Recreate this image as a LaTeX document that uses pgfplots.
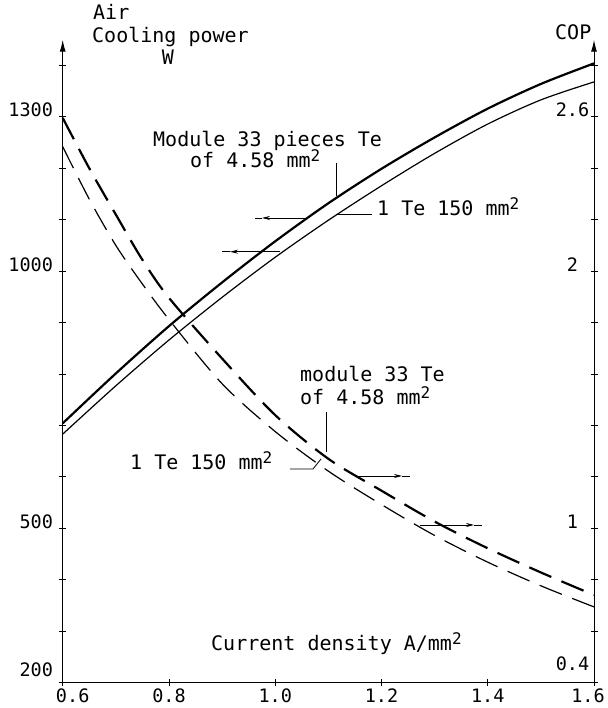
\documentclass[border=0pt]{standalone}
\usepackage{pgfplots}
\pgfplotsset{compat=1.18}
\usepackage{fontspec}
\setmainfont{DejaVu Sans Mono}
\usetikzlibrary{arrows.meta}
\newcommand\tf{\fontsize{20bp}{24bp}\selectfont}
\newcommand\lf{\fontsize{18.5bp}{22bp}\selectfont}
\newcommand\sq{\raisebox{6.5bp}{\fontsize{16bp}{16bp}\selectfont 2}}

\begin{document}
\begin{tikzpicture}[x=1bp,y=1bp]
\path[use as bounding box] (0,0) rectangle (608,708);
\begin{axis}[
  at={(62.7bp,25.5bp)}, anchor=south west,
  scale only axis, width=531.3bp, height=642.75bp,
  xmin=0.6, xmax=1.6, ymin=200, ymax=1450,
  axis x line*=bottom, axis y line*=left,
  axis line style={line width=1bp, black},
  y axis line style={-{Latex[length=12bp,width=6bp]}},
  xtick={0.6,0.8,1.0,1.2,1.4,1.6},
  xticklabels={\hspace*{20bp}0.6,0.8,1.0,1.2,1.4,1.6\hspace*{12bp}},
  ytick={200,300,400,500,600,700,800,900,1000,1100,1200,1300,1400},
  yticklabels={\raisebox{6bp}{200},,,500,,,,,1000,,,1300,},
  tick align=center, major tick length=7bp,
  tick style={black, line width=0.8bp},
  tick label style={font=\lf, inner sep=0pt},
  xticklabel style={anchor=north, yshift=-3bp},
  yticklabel style={anchor=base east, xshift=-6bp},
  clip=false,
]
% Cooling power, module 33 pieces Te of 4.58 mm^2 (thick solid)
\addplot[line width=2.2bp, smooth] coordinates {
(0.6,704) (0.7,801) (0.8,893) (0.9,978) (1.0,1058) (1.1,1132) (1.2,1199) (1.3,1260) (1.4,1316) (1.5,1364) (1.6,1404)};
% Cooling power, 1 Te 150 mm^2 (thin solid)
\addplot[line width=1.2bp, smooth] coordinates {
(0.6,683) (0.7,777) (0.8,866) (0.9,949) (1.0,1027) (1.1,1099) (1.2,1166) (1.3,1229) (1.4,1286) (1.5,1333) (1.6,1368)};
% COP (x500), module 33 Te (thick dashed)
\addplot[line width=2.2bp, smooth, dash pattern=on 24bp off 11bp] coordinates {
(0.6,1298) (0.65,1200) (0.7,1110) (0.75,1022) (0.8,948) (0.9,830) (1.0,720) (1.1,635) (1.2,573) (1.3,513) (1.4,461) (1.5,414) (1.6,370)};
% COP (x500), 1 Te 150 mm^2 (thin dashed)
\addplot[line width=1.2bp, smooth, dash pattern=on 24bp off 11bp] coordinates {
(0.6,1242) (0.65,1140) (0.7,1050) (0.75,975) (0.8,906) (0.9,781) (1.0,688) (1.1,611) (1.2,546) (1.3,486) (1.4,434) (1.5,388) (1.6,347)};
\end{axis}
\begin{axis}[
  at={(62.7bp,25.5bp)}, anchor=south west,
  scale only axis, width=531.3bp, height=642.75bp,
  xmin=0.6, xmax=1.6, ymin=0.4, ymax=2.9,
  hide x axis,
  axis y line*=right,
  axis line style={line width=1bp, black},
  y axis line style={-{Latex[length=12bp,width=6bp]}},
  ytick={0.4,0.6,0.8,1.0,1.2,1.4,1.6,1.8,2.0,2.2,2.4,2.6,2.8},
  yticklabels={\raisebox{12bp}{0.4},,,1,,,,,2,,,2.6,},
  tick align=center, major tick length=7bp,
  tick style={black, line width=0.8bp},
  yticklabel style={font=\lf, inner sep=0pt, anchor=base, xshift=-25bp},
]
\end{axis}
% labels
\node[anchor=base west, font=\tf, inner sep=0] at (93,688) {Air};
\node[anchor=base west, font=\tf, inner sep=0] at (92,665) {Cooling power};
\node[anchor=base, font=\tf, inner sep=0] at (168,643) {W};
\node[anchor=base west, font=\tf, inner sep=0] at (555,668) {COP};
\node[anchor=base west, font=\tf, inner sep=0] at (153,561) {Module 33 pieces Te};
\node[anchor=base west, font=\tf, inner sep=0] at (190,540) {of 4.58 mm\sq};
\node[anchor=base west, font=\tf, inner sep=0] at (377,492) {1 Te 150 mm\sq};
\node[anchor=base west, font=\tf, inner sep=0] at (300,326) {module 33 Te};
\node[anchor=base west, font=\tf, inner sep=0] at (300,303) {of 4.58 mm\sq};
\node[anchor=base west, font=\tf, inner sep=0] at (130,238) {1 Te 150 mm\sq};
\node[anchor=base west, font=\tf, inner sep=0] at (211,57) {Current density A/mm\sq};
% leaders
\draw[line width=0.8bp] (336.7,545) -- (336.7,512);
\draw[line width=0.8bp] (337,494) -- (372,494);
\draw[line width=0.8bp] (326.7,296) -- (326.7,256);
\draw[line width=0.8bp] (290,239) -- (313,239) -- (321,249);
% arrows
\draw[line width=0.8bp,-{Stealth[length=8bp,width=4bp]}] (307,490) -- (262,490);
\draw[line width=0.8bp] (262,490) -- (255,490);
\draw[line width=0.8bp,-{Stealth[length=8bp,width=4bp]}] (280,456.3) -- (230,456.3);
\draw[line width=0.8bp] (230,456.3) -- (222,456.3);
\draw[line width=0.8bp,-{Stealth[length=8bp,width=4bp]}] (356.7,232) -- (402,232);
\draw[line width=0.8bp] (402,232) -- (410,232);
\draw[line width=0.8bp,-{Stealth[length=8bp,width=4bp]}] (420,183) -- (474,183);
\draw[line width=0.8bp] (474,183) -- (482,183);
\end{tikzpicture}
\end{document}
